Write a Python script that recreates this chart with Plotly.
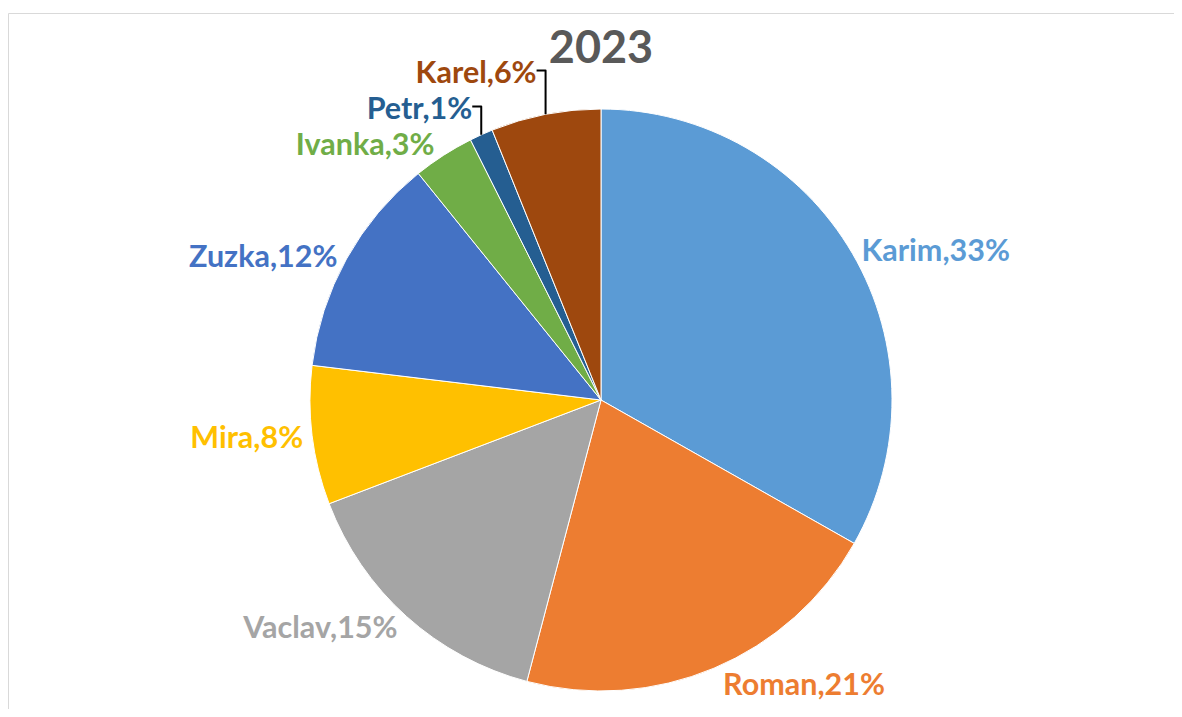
import plotly.graph_objects as go

names = ["Karim", "Roman", "Vaclav", "Mira", "Zuzka", "Ivanka", "Petr", "Karel"]
values = [33.2, 20.9, 15.1, 7.7, 12.3, 3.4, 1.3, 6.1]
colors = ["#5B9BD5", "#ED7D31", "#A5A5A5", "#FFC000", "#4472C4", "#70AD47", "#255E91", "#9E480E"]
title_text = "2023"

# page has an 8px body margin, so the figure is drawn 8px in from the top-left
W, H = 1166, 701
cx, cy, r = 593, 392, 291

fig = go.Figure()
fig.add_trace(go.Pie(
    labels=names, values=values, sort=False, direction="clockwise", rotation=0,
    marker=dict(colors=colors, line=dict(color="white", width=1)),
    textposition="outside",
    texttemplate="%{label},%{percent:.0%}",
    outsidetextfont=dict(family="Lato", size=30.5, color=colors, weight="bold"),
    showlegend=False,
    domain=dict(x=[(cx - r) / W, (cx + r) / W], y=[(H - cy - r) / H, (H - cy + r) / H]),
))
frame = dict(xref="paper", yref="paper", line=dict(color="#D9D9D9", width=1), layer="below")
fig.update_layout(
    width=W, height=H,
    margin=dict(l=0, r=0, t=0, b=0),
    paper_bgcolor="white",
    title=dict(text="<b>" + title_text + "</b>", x=(601 - 8) / W, xanchor="center", y=1 - 39 / H, yanchor="middle",
               font=dict(family="Lato", size=45, color="#595959")),
    shapes=[
        dict(type="line", x0=0.5 / W, x1=1.0, y0=1 - 5.5 / H, y1=1 - 5.5 / H, **frame),
        dict(type="line", x0=0.5 / W, x1=0.5 / W, y0=0.0, y1=1 - 5.5 / H, **frame),
    ],
)
fig.write_html("out.html")
